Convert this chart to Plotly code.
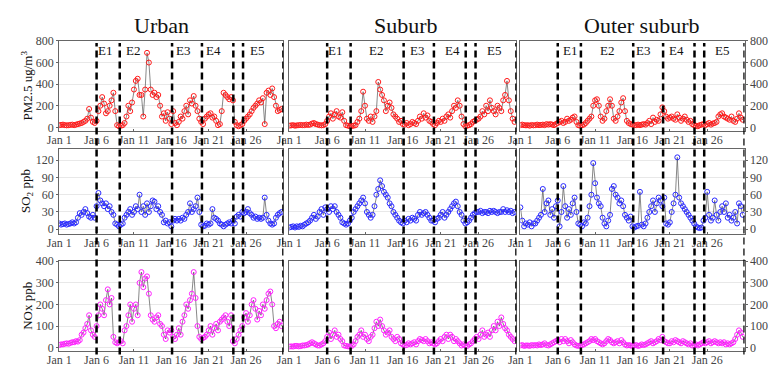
import plotly.graph_objects as go
import pandas as pd

# ---------------- data (6-hourly readings, Jan 1 00h .. Jan 30 18h) ----------------
urban_pm25 = [
    20, 22, 25, 20, 18, 20, 22, 25, 20, 25, 30, 35, 40, 50, 60, 80, 170, 90, 50, 40,
    60, 150, 200, 280, 220, 130, 150, 200, 250, 320, 150, 20, 10, 15, 20, 40, 100, 200, 150, 230,
    350, 430, 450, 300, 300, 100, 350, 690, 600, 350, 300, 320, 280, 300, 200, 100, 130, 60, 140, 80,
    30, 150, 40, 20, 50, 100, 80, 150, 200, 120, 250, 220, 290, 200, 150, 80, 50, 30, 80, 100,
    120, 130, 90, 100, 60, 20, 30, 150, 320, 300, 280, 260, 280, 250, 50, 20, 10, 20, 30, 60,
    80, 100, 120, 150, 180, 200, 220, 250, 230, 270, 30, 320, 340, 300, 360, 280, 200, 150, 160, 170]
urban_so2 = [
    10, 8, 9, 10, 8, 9, 10, 12, 10, 12, 20, 28, 25, 30, 35, 28, 22, 20, 25, 20,
    40, 63, 50, 45, 40, 45, 35, 40, 30, 25, 10, 8, 5, 8, 10, 20, 25, 30, 35, 25,
    30, 40, 35, 60, 30, 40, 25, 45, 30, 40, 50, 48, 35, 40, 30, 25, 12, 15, 10, 12,
    5, 15, 18, 15, 18, 15, 20, 18, 25, 30, 45, 30, 35, 40, 55, 30, 8, 5, 6, 10,
    8, 10, 35, 20, 18, 15, 10, 8, 5, 8, 10, 12, 10, 15, 10, 22, 25, 22, 30, 28,
    30, 35, 28, 25, 20, 22, 18, 20, 18, 20, 55, 25, 15, 10, 8, 10, 20, 25, 28, 30]
urban_nox = [
    12, 15, 15, 18, 20, 18, 22, 25, 25, 30, 28, 35, 60, 70, 90, 110, 150, 80, 60, 50,
    100, 150, 200, 180, 150, 220, 270, 200, 230, 50, 25, 20, 25, 30, 20, 80, 100, 150, 200, 120,
    180, 200, 150, 300, 350, 280, 320, 330, 250, 150, 130, 120, 140, 150, 110, 100, 60, 40, 80, 70,
    80, 50, 40, 60, 90, 60, 120, 150, 200, 180, 220, 250, 350, 230, 100, 50, 40, 45, 50, 60,
    80, 100, 60, 90, 110, 80, 120, 130, 140, 150, 120, 100, 150, 30, 20, 40, 60, 80, 100, 140,
    160, 120, 150, 200, 220, 180, 130, 170, 150, 200, 180, 220, 250, 260, 200, 100, 90, 110, 120, 100]
suburb_pm25 = [
    15, 18, 20, 15, 18, 20, 22, 20, 20, 25, 22, 25, 35, 40, 30, 25, 20, 18, 20, 30,
    60, 100, 130, 80, 120, 150, 100, 90, 140, 60, 20, 15, 10, 12, 15, 20, 50, 80, 150, 330,
    200, 80, 60, 100, 50, 100, 150, 420, 350, 300, 250, 150, 200, 230, 180, 120, 100, 80, 50, 60,
    30, 25, 40, 20, 30, 50, 40, 30, 60, 100, 80, 130, 90, 110, 60, 50, 30, 20, 40, 60,
    50, 80, 60, 100, 120, 90, 150, 200, 180, 250, 200, 100, 30, 10, 15, 20, 30, 50, 60, 70,
    80, 100, 150, 120, 200, 150, 250, 180, 150, 120, 200, 180, 150, 250, 300, 430, 250, 150, 80, 50]
suburb_so2 = [
    3, 4, 5, 3, 5, 4, 6, 5, 8, 10, 12, 15, 20, 25, 18, 22, 30, 35, 25, 38,
    35, 30, 40, 35, 40, 30, 25, 20, 12, 10, 8, 10, 15, 20, 30, 35, 40, 45, 50, 55,
    45, 30, 25, 20, 25, 40, 60, 70, 85, 75, 65, 60, 55, 45, 40, 30, 25, 20, 15, 12,
    10, 15, 12, 18, 15, 20, 18, 15, 25, 30, 25, 28, 30, 25, 20, 15, 15, 12, 18, 20,
    25, 30, 20, 25, 30, 35, 40, 45, 48, 40, 30, 25, 15, 10, 12, 15, 20, 25, 28, 30,
    30, 32, 28, 30, 30, 28, 32, 30, 32, 30, 28, 30, 30, 35, 30, 33, 30, 32, 28, 30]
suburb_nox = [
    5, 6, 5, 8, 8, 6, 7, 10, 10, 12, 15, 20, 25, 20, 15, 10, 10, 15, 20, 30,
    50, 70, 40, 60, 80, 50, 60, 40, 30, 10, 8, 6, 5, 8, 15, 30, 50, 60, 80, 50,
    60, 40, 30, 50, 60, 90, 120, 100, 130, 100, 80, 60, 70, 80, 50, 40, 30, 50, 40, 20,
    15, 10, 12, 20, 15, 20, 25, 15, 30, 40, 35, 30, 40, 30, 20, 25, 20, 15, 20, 30,
    40, 30, 50, 60, 40, 60, 50, 30, 40, 30, 20, 10, 15, 10, 8, 15, 20, 30, 40, 50,
    40, 60, 80, 50, 60, 70, 50, 80, 100, 80, 120, 100, 140, 110, 90, 80, 60, 50, 40, 30]
outer_pm25 = [
    20, 25, 20, 18, 20, 15, 22, 18, 20, 25, 20, 22, 25, 20, 30, 25, 30, 25, 20, 30,
    40, 50, 60, 40, 50, 80, 60, 70, 90, 100, 50, 20, 15, 20, 25, 40, 60, 80, 100, 200,
    250, 260, 200, 100, 60, 80, 150, 200, 260, 200, 80, 60, 100, 150, 230, 270, 150, 60, 40, 30,
    25, 20, 20, 25, 20, 25, 30, 25, 40, 60, 30, 90, 50, 70, 60, 120, 185, 150, 100, 80,
    90, 100, 80, 70, 120, 90, 60, 80, 100, 70, 50, 60, 30, 20, 15, 10, 20, 25, 30, 20,
    30, 40, 25, 35, 40, 50, 100, 120, 130, 100, 90, 80, 70, 100, 60, 50, 80, 130, 90, 70]
outer_so2 = [
    38, 15, 5, 10, 8, 12, 5, 10, 10, 15, 20, 25, 70, 30, 45, 50, 25, 35, 20, 40,
    50, 5, 30, 75, 40, 20, 35, 25, 45, 55, 30, 10, 8, 5, 12, 10, 20, 40, 60, 115,
    80, 55, 45, 40, 20, 10, 5, 15, 25, 70, 75, 60, 55, 45, 50, 40, 25, 20, 15, 22,
    5, 3, 5, 6, 65, 8, 5, 10, 20, 30, 40, 50, 30, 45, 55, 50, 40, 55, 10, 8,
    12, 30, 45, 60, 125, 55, 45, 40, 35, 30, 25, 20, 15, 10, 5, 3, 2, 3, 15, 20,
    65, 25, 15, 20, 50, 25, 15, 30, 40, 30, 45, 20, 25, 15, 20, 30, 10, 45, 40, 25]
outer_nox = [
    10, 12, 8, 10, 10, 8, 12, 10, 12, 10, 15, 12, 15, 20, 12, 10, 15, 20, 25, 30,
    35, 25, 40, 30, 40, 30, 20, 35, 25, 15, 10, 8, 10, 12, 15, 20, 25, 30, 40, 35,
    40, 30, 25, 20, 15, 20, 30, 40, 35, 25, 20, 25, 30, 20, 35, 25, 15, 10, 12, 10,
    8, 10, 12, 8, 10, 15, 12, 15, 20, 25, 30, 20, 25, 30, 40, 35, 50, 30, 25, 20,
    20, 30, 25, 35, 30, 25, 20, 30, 25, 20, 15, 20, 10, 12, 15, 10, 15, 20, 25, 20,
    25, 30, 20, 25, 30, 25, 20, 25, 20, 25, 15, 20, 15, 20, 25, 40, 60, 80, 70, 50]

sites = ["Urban", "Suburb", "Outer suburb"]
pollutants = ["PM2.5 ug/m<sup>3</sup>", "SO<sub>2</sub> ppb", "NOx ppb"]
series = [
    [urban_pm25, suburb_pm25, outer_pm25],
    [urban_so2, suburb_so2, outer_so2],
    [urban_nox, suburb_nox, outer_nox],
]
tick_days = [1, 6, 11, 16, 21, 26]
tick_labels = ["Jan 1", "Jan 6", "Jan 11", "Jan 16", "Jan 21", "Jan 26"]
event_names = ["E1", "E2", "E3", "E4", "E5"]
event_bounds = [6.0, 9.1, 16.1, 20.1, 24.3, 25.6, 31.0]   # day-of-January of dashed lines

# ---------------- layout helpers ----------------
W, H = 778, 374
base = pd.Timestamp("2015-01-01")
times = pd.date_range(base, periods=120, freq="6h")
def day(d):
    return base + pd.Timedelta(days=d - 1)

col_px = [(47, 275), (281, 512), (516, 744)]
title_px = [151, 400, 639]
row_px = [(35, 127.3), (146, 233.7), (262, 354.3)]
y_ranges = [[-30, 800], [-8, 140], [-15, 400]]
y_dticks = [200, 30, 100]
colors = ["#ff1a1a", "#2a2aff", "#ff22ff"]
label_days = [[7.1, 10.9, 17.6, 21.7, 27.4],
              [7.1, 12.4, 17.8, 22.5, 28.1],
              [7.6, 12.6, 17.4, 21.9, 28.0]]

SERIF = "Liberation Serif"
fig = go.Figure()
layout = dict(width=W, height=H, margin=dict(l=0, r=0, t=0, b=0),
              paper_bgcolor="white", plot_bgcolor="white", showlegend=False,
              font=dict(family=SERIF, size=12, color="#333"))
annotations = []
shapes = []

for r in range(3):
    for c in range(3):
        i = r * 3 + c + 1
        xa = "x" if i == 1 else f"x{i}"
        ya = "y" if i == 1 else f"y{i}"
        fig.add_trace(go.Scatter(
            x=times, y=series[r][c], xaxis=xa, yaxis=ya, mode="lines+markers",
            line=dict(color="#555", width=0.7),
            marker=dict(symbol="circle-open", size=5, color=colors[r], line=dict(width=1, color=colors[r])),
            hoverinfo="skip"))
        x0, x1 = col_px[c]
        yt, yb = row_px[r]
        layout["xaxis" if i == 1 else f"xaxis{i}"] = dict(
            domain=[x0 / W, x1 / W], anchor=ya, range=[day(1), day(31)],
            tickvals=[day(d) for d in tick_days], ticktext=tick_labels,
            showline=True, mirror=True, linecolor="#666", linewidth=1,
            ticks="inside", ticklen=2, tickcolor="#666", showgrid=False, zeroline=False,
            ticklabelstandoff=-2,
            tickfont=dict(family=SERIF, size=12, color="#444"))
        yax = dict(
            domain=[(H - yb) / H, (H - yt) / H], anchor=xa, range=y_ranges[r], dtick=y_dticks[r],
            showline=True, mirror=True, linecolor="#666", linewidth=1,
            showgrid=True, gridcolor="#e8e8e8", gridwidth=1, zeroline=False,
            tickfont=dict(family=SERIF, size=12, color="#444"))
        if c == 0:
            yax.update(side="left", ticks="outside", ticklen=2, tickcolor="#666")
        elif c == 1:
            yax.update(showticklabels=False, ticks="")
        else:
            yax.update(side="right", ticks="outside", ticklen=2, tickcolor="#666")
        layout["yaxis" if i == 1 else f"yaxis{i}"] = yax

for c in range(3):
    xa = "x" if c == 0 else f"x{c + 1}"
    for d in event_bounds:
        shapes.append(dict(type="line", xref=xa, yref="paper", x0=day(d), x1=day(d),
                           y0=(H - 358) / H, y1=(H - 37) / H,
                           line=dict(color="black", width=2.5, dash="7px,4px")))
    for name, d in zip(event_names, label_days[c]):
        annotations.append(dict(text=name, xref=xa, yref="paper", x=day(d), y=(H - 45) / H,
                                showarrow=False, font=dict(family=SERIF, size=13, color="#111"),
                                xanchor="center", yanchor="middle"))
    annotations.append(dict(text=sites[c], xref="paper", yref="paper",
                            x=title_px[c] / W, y=(H - 19) / H,
                            showarrow=False, font=dict(family=SERIF, size=22, color="#111"),
                            xanchor="center", yanchor="middle"))

for r in range(3):
    yt, yb = row_px[r]
    annotations.append(dict(text=pollutants[r], xref="paper", yref="paper",
                            x=14 / W, y=(H - (yt + yb) / 2) / H, textangle=-90,
                            showarrow=False, font=dict(family=SERIF, size=13, color="#111"),
                            xanchor="center", yanchor="middle"))

layout["annotations"] = annotations
layout["shapes"] = shapes
fig.update_layout(**layout)
fig.write_html("out.html", config={"displayModeBar": False},
               post_script="document.body.style.margin='0';document.body.style.overflow='hidden';")
